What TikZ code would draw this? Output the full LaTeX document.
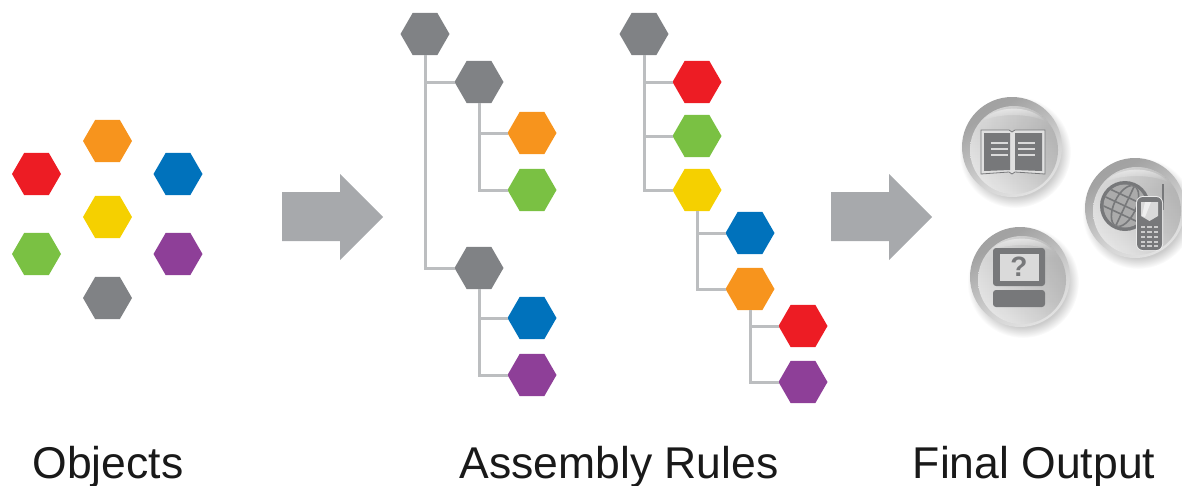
\documentclass[tikz,border=0pt]{standalone}
\usepackage{fontspec}
\setmainfont{Liberation Sans}
\usetikzlibrary{shapes.geometric,fadings}
\definecolor{hgray}{HTML}{808285}
\definecolor{hred}{HTML}{ED1C24}
\definecolor{horange}{HTML}{F7941D}
\definecolor{hblue}{HTML}{0072BC}
\definecolor{hyellow}{HTML}{F5D000}
\definecolor{hgreen}{HTML}{7AC143}
\definecolor{hpurple}{HTML}{8E3F98}
\definecolor{linkc}{HTML}{BCBEC0}
\definecolor{arrowc}{HTML}{A7A9AC}
\definecolor{glyph}{HTML}{77787A}
\definecolor{glyphlight}{HTML}{DADADA}
\pgfdeclareradialshading{orbshadow}{\pgfpoint{0bp}{0bp}}{color(0bp)=(black!20); color(20bp)=(black!20); color(25bp)=(white); color(50bp)=(white)}
\pgfdeclarehorizontalshading{orbrim}{100bp}{color(0bp)=(black!40); color(30bp)=(black!36); color(62bp)=(black!16); color(100bp)=(black!3)}
\pgfdeclareverticalshading{orbface}{100bp}{color(0bp)=(white); color(18bp)=(black!2); color(38bp)=(black!10); color(62bp)=(black!15); color(82bp)=(black!10); color(100bp)=(black!4)}
\tikzfading[name=orbsidefade,left color=transparent!100,right color=transparent!0]
\tikzfading[name=glowfade,top color=transparent!15,bottom color=transparent!100]
\tikzset{
  x=1pt,y=-1pt,
  hexa/.style={regular polygon,regular polygon sides=6,minimum size=49pt,inner sep=0pt,outer sep=0pt,fill=#1},
  link/.style={draw=linkc,line width=3pt},
  bigarrow/.style={fill=arrowc},
  caption/.style={anchor=base,font=\fontsize{44.5pt}{50pt}\selectfont,text=black!90,inner sep=0pt},
  glyphline/.style={draw=glyphlight,line width=1.5pt},
}
\newcommand{\orb}[2]{%
  \begin{scope}[shift={(#1,#2)}]
    \shade[shading=orbshadow] (3,5) circle (56);
    \shade[shading=orbrim,shading angle=-60] (0,0) circle (50);
    \shade[shading=orbface] (2,3) circle (44);
    \fill[black,opacity=.18,path fading=orbsidefade] (2,3) circle (44);
    \fill[white,path fading=glowfade,opacity=.75] (-30,-26) .. controls (-16,-42) and (18,-43) .. (33,-26) .. controls (15,-34) and (-12,-34) .. (-30,-26) -- cycle;
  \end{scope}}
\begin{document}
\begin{tikzpicture}
\useasboundingbox (0,0) rectangle (1182,485);
% objects
\node[hexa=hred] (o1) at (36.5,174) {};
\node[hexa=horange] (o2) at (107.5,141) {};
\node[hexa=hblue] (o3) at (178,174) {};
\node[hexa=hyellow] (o4) at (107.5,217) {};
\node[hexa=hgreen] (o5) at (36.5,254) {};
\node[hexa=hpurple] (o6) at (178,254) {};
\node[hexa=hgray] (o7) at (107.5,298) {};
% arrows
\fill[bigarrow] (282,192) -- (340,192) -- (340,174) -- (383,217) -- (340,260) -- (340,241) -- (282,241) -- cycle;
\fill[bigarrow] (831,192) -- (889,192) -- (889,174) -- (932,217) -- (889,260) -- (889,241) -- (831,241) -- cycle;
% tree 1
\node[hexa=hgray] (r) at (425,34) {};
\node[hexa=hgray] (g1) at (479,82) {};
\node[hexa=horange] (t1) at (532,133) {};
\node[hexa=hgreen] (t2) at (532,190) {};
\node[hexa=hgray] (g2) at (479,268) {};
\node[hexa=hblue] (t3) at (532,318) {};
\node[hexa=hpurple] (t4) at (532,375) {};
\draw[link] (r) |- (g1);
\draw[link] (r) |- (g2);
\draw[link] (g1) |- (t1);
\draw[link] (g1) |- (t2);
\draw[link] (g2) |- (t3);
\draw[link] (g2) |- (t4);
% tree 2
\node[hexa=hgray] (s) at (644,34) {};
\node[hexa=hred] (s1) at (697,82) {};
\node[hexa=hgreen] (s2) at (697,136) {};
\node[hexa=hyellow] (s3) at (697,190) {};
\node[hexa=hblue] (s4) at (750,233) {};
\node[hexa=horange] (s5) at (750,289) {};
\node[hexa=hred] (s6) at (803,326) {};
\node[hexa=hpurple] (s7) at (803,382) {};
\draw[link] (s) |- (s1);
\draw[link] (s) |- (s2);
\draw[link] (s) |- (s3);
\draw[link] (s3) |- (s4);
\draw[link] (s3) |- (s5);
\draw[link] (s5) |- (s6);
\draw[link] (s5) |- (s7);
% orbs
\orb{1012}{147}
\orb{1135}{208}
\orb{1020}{277}
% book
\begin{scope}[shift={(1012,147)}]
  \draw[glyph,line width=.8pt,fill=black!12] (-31,-17) -- (-3,-17) -- (0,-15) -- (3,-17) -- (33,-17) -- (33,27) -- (3,25) -- (0,27) -- (-3,25) -- (-31,27) -- cycle;
  \fill[glyph] (-28,-14) -- (-2,-14) -- (-2,23) -- (-28,24) -- cycle;
  \fill[glyph] (3,-14) -- (30,-14) -- (30,24) -- (3,23) -- cycle;
  \foreach \yy in {-4,2,8}{
    \draw[glyphline] (-21,\yy) -- (-4,\yy);
    \draw[glyphline] (6,\yy) -- (23,\yy);
  }
\end{scope}
% globe and phone
\begin{scope}[shift={(1135,208)}]
  \fill[glyph] (-10,-2) circle (25);
  \fill[black!33] (-10,-2) circle (21.5);
  \begin{scope}
    \clip (-10,-2) circle (21.5);
    \draw[glyph,line width=1.6pt,rotate around={-25:(-10,-2)}]
      (-10,-25) -- (-10,23)
      (-10,-2) ellipse (11 and 22)
      (-32,-2) -- (12,-2)
      (-32,-11) -- (12,-11) (-32,7) -- (12,7);
  \end{scope}
  \draw[glyph,line width=1.5pt] (28,-24) -- (28,2);
  \fill[black!8,rounded corners=7pt] (1,-12) rectangle (28,43);
  \fill[glyph,rounded corners=6pt] (2,-11) rectangle (27,42);
  \fill[black!15] (6,-6) -- (23,-6) -- (23,8) -- (14.5,13) -- (6,8) -- cycle;
  \fill[white,opacity=.6] (10,-6) -- (16,-6) -- (10,9) -- (7,8) -- cycle;
  \foreach \yy in {19,24,29,34,38}
    \foreach \xx in {8,14.5,21}
      \fill[black!20] (\xx-2.2,\yy-1.2) rectangle (\xx+2.2,\yy+1.2);
\end{scope}
% computer
\begin{scope}[shift={(1020,277)}]
  \fill[glyph,rounded corners=3pt] (-27,-29) rectangle (25,9);
  \fill[glyphlight] (-20,-23) rectangle (19,4);
  \node[font=\bfseries\fontsize{28pt}{28pt}\selectfont,text=glyph,inner sep=0pt] (q) at (-1,-10) {?};
  \fill[glyph,rounded corners=3pt] (-27,13) rectangle (25,30);
\end{scope}
% captions
\node[caption] (c1) at (108,478) {Objects};
\node[caption] (c2) at (619,478) {Assembly Rules};
\node[caption] (c3) at (1034,478) {Final Output};
\end{tikzpicture}
\end{document}
